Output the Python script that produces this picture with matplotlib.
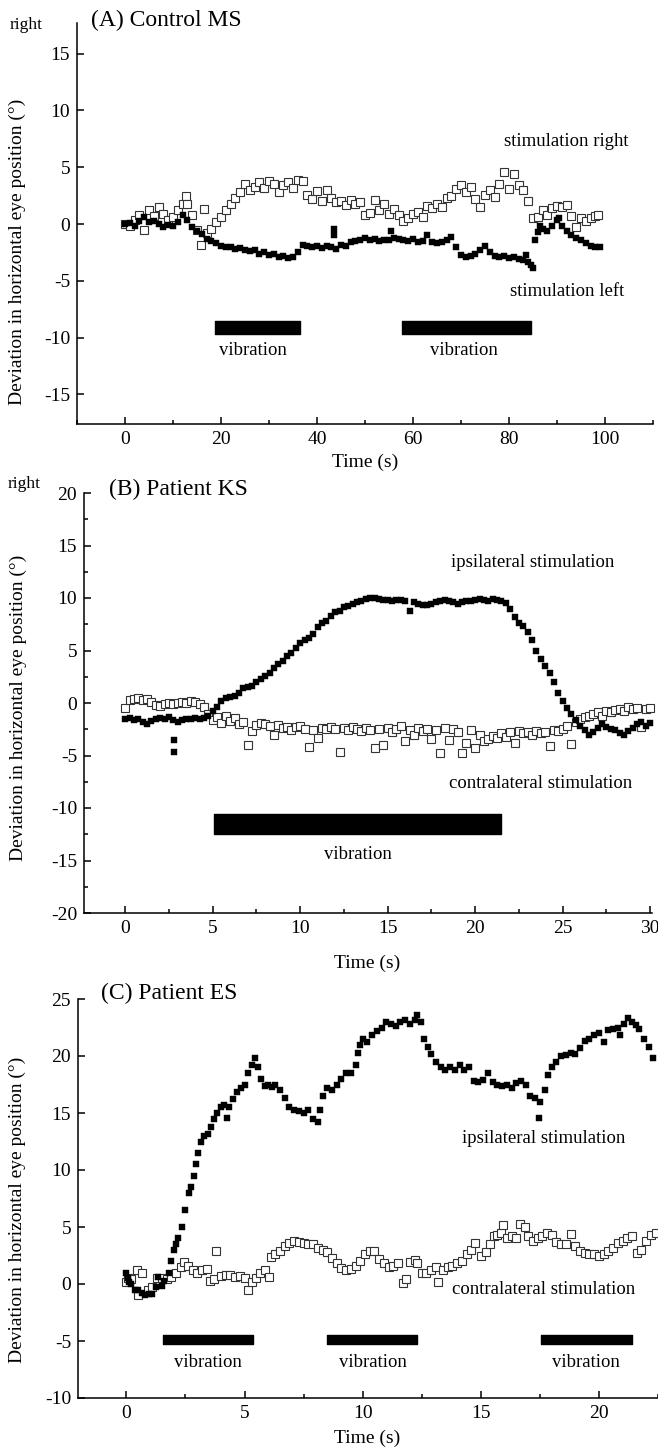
import numpy as np
import matplotlib
matplotlib.use("Agg")
import matplotlib.pyplot as plt
from matplotlib.ticker import MultipleLocator

plt.rcParams['font.family'] = ['Liberation Serif', 'DejaVu Serif']
plt.rcParams['axes.unicode_minus'] = False

# ---------- (A) Control MS : (time s, deviation deg) ----------
a_right = np.array([
    (0, 0.0), (1, -0.2), (2, 0.4), (3, 0.8), (4, -0.5), (5, 1.2), (6, 0.7), (7, 1.5), (8, 0.9), (9, 0.4),
    (10, 0.6), (11, 1.2), (12, 1.8), (12.7, 2.5), (13, 1.8), (14, 0.8), (15, -0.5), (15.8, -1.8), (16.5, 1.3), (17, -0.8),
    (18, -0.4), (19, 0.2), (20, 0.6), (21, 1.2), (22, 1.8), (23, 2.3), (24, 2.8), (25, 3.5), (26, 3.0), (27, 3.3),
    (28, 3.7), (29, 3.2), (30, 3.8), (31, 3.5), (32, 2.8), (33, 3.4), (34, 3.7), (35, 3.2), (36, 3.9), (37, 3.8),
    (38, 2.6), (39, 2.2), (40, 2.9), (41, 2.0), (42, 3.0), (43, 2.3), (44, 1.9), (45, 2.0), (46, 1.7), (47, 2.1),
    (48, 1.8), (49, 1.9), (50, 0.8), (51, 1.0), (52, 2.1), (53, 1.2), (54, 1.8), (55, 0.9), (56, 1.3), (57, 0.8),
    (58, 0.3), (59, 0.5), (60, 0.9), (61, 1.1), (62, 0.6), (63, 1.6), (64, 1.4), (65, 1.8), (66, 1.5), (67, 2.3),
    (68, 2.5), (69, 3.1), (70, 3.4), (71, 2.8), (72, 3.3), (73, 2.2), (74, 1.5), (75, 2.6), (76, 3.0), (77, 2.4),
    (78, 3.5), (79, 4.6), (80, 3.1), (81, 4.4), (82, 3.4), (83, 3.0), (84, 2.0), (85, 0.5), (86, 0.6), (87, 1.2),
    (88, 0.8), (89, 1.4), (90, 1.6), (91, 1.5), (92, 1.7), (93, 0.7), (94, -0.3), (95, 0.5), (96, 0.3), (97, 0.5),
    (98, 0.7), (98.5, 0.8),
])
a_left = np.array([
    (0, 0.0), (1, 0.1), (2, -0.2), (3, 0.3), (4, 0.6), (5, 0.2), (6, 0.3), (7, 0.0), (8, -0.3), (9, -0.1),
    (10, -0.2), (11, 0.2), (12, 0.8), (13, 0.4), (14, -0.3), (15, -0.6), (16, -0.9), (17, -1.3), (18, -1.5), (19, -1.7),
    (20, -1.9), (21, -2.0), (22, -2.0), (23, -2.2), (24, -2.1), (25, -2.3), (26, -2.4), (27, -2.3), (28, -2.6), (29, -2.5),
    (30, -2.7), (31, -2.6), (32, -2.9), (33, -2.8), (34, -3.0), (35, -2.9), (36, -2.5), (37, -1.8), (38, -1.9), (39, -2.0),
    (40, -1.9), (41, -2.1), (42, -1.9), (43, -2.0), (43.5, -0.4), (43.6, -1.0), (44, -2.2), (45, -1.8), (46, -1.9), (47, -1.6),
    (48, -1.5), (49, -1.4), (50, -1.2), (51, -1.4), (52, -1.3), (53, -1.5), (54, -1.4), (55, -1.4), (55.5, -0.6), (56, -1.2),
    (57, -1.3), (58, -1.4), (59, -1.5), (60, -1.3), (61, -1.6), (62, -1.5), (63, -1.0), (64, -1.6), (65, -1.7), (66, -1.6),
    (67, -1.4), (68, -1.1), (69, -2.0), (70, -2.7), (71, -2.9), (72, -2.8), (73, -2.6), (74, -2.3), (75, -1.9), (76, -2.5),
    (77, -2.8), (78, -2.9), (79, -2.8), (80, -3.0), (81, -2.9), (82, -3.1), (83, -3.2), (83.5, -2.7), (84, -3.3), (84.5, -3.6),
    (85, -3.9), (85.5, -1.4), (86, -0.7), (86.5, -0.2), (87, -0.4), (88, -0.6), (89, -0.2), (90, 0.4), (90.5, 0.5), (91, -0.2),
    (92, -0.6), (93, -1.0), (94, -1.2), (95, -1.4), (96, -1.7), (97, -1.9), (98, -2.0), (99, -2.0),
])
a_vib_start = [18.8, 57.8]
a_vib_end = [36.4, 84.5]

# ---------- (B) Patient KS ----------
b_ipsi = np.array([
    (0.00, -1.5), (0.25, -1.4), (0.50, -1.6), (0.75, -1.5), (1.00, -1.8), (1.25, -2.0), (1.50, -1.7), (1.75, -1.5),
    (2.00, -1.4), (2.25, -1.5), (2.50, -1.3), (2.75, -1.6), (2.80, -3.5), (2.82, -4.7), (3.00, -1.8), (3.25, -1.6),
    (3.50, -1.5), (3.75, -1.5), (4.00, -1.4), (4.25, -1.5), (4.50, -1.4), (4.75, -1.2), (5.00, -0.8), (5.25, -0.4),
    (5.50, 0.2), (5.75, 0.5), (6.00, 0.6), (6.25, 0.7), (6.50, 1.0), (6.75, 1.4), (7.00, 1.5), (7.25, 1.6),
    (7.50, 2.0), (7.75, 2.3), (8.00, 2.6), (8.25, 2.9), (8.50, 3.3), (8.75, 3.7), (9.00, 4.0), (9.25, 4.5),
    (9.50, 4.8), (9.75, 5.2), (10.00, 5.7), (10.25, 6.0), (10.50, 6.2), (10.75, 6.6), (11.00, 7.2), (11.25, 7.6),
    (11.50, 7.8), (11.75, 8.3), (12.00, 8.7), (12.25, 8.8), (12.50, 9.1), (12.75, 9.2), (13.00, 9.4), (13.25, 9.6),
    (13.50, 9.7), (13.75, 9.9), (14.00, 10.0), (14.25, 10.0), (14.50, 9.9), (14.75, 9.8), (15.00, 9.8), (15.25, 9.7),
    (15.50, 9.8), (15.75, 9.8), (16.00, 9.7), (16.25, 8.8), (16.50, 9.6), (16.75, 9.4), (17.00, 9.3), (17.25, 9.3),
    (17.50, 9.4), (17.75, 9.6), (18.00, 9.7), (18.25, 9.8), (18.50, 9.7), (18.75, 9.6), (19.00, 9.4), (19.25, 9.6),
    (19.50, 9.7), (19.75, 9.7), (20.00, 9.8), (20.25, 9.9), (20.50, 9.8), (20.75, 9.7), (21.00, 9.9), (21.25, 9.8),
    (21.50, 9.7), (21.75, 9.5), (22.00, 9.0), (22.25, 8.2), (22.50, 7.6), (22.75, 7.3), (23.00, 6.8), (23.25, 6.0),
    (23.50, 5.0), (23.75, 4.2), (24.00, 3.5), (24.25, 2.9), (24.50, 2.0), (24.75, 1.0), (25.00, 0.2), (25.25, -0.5),
    (25.50, -1.0), (25.75, -1.6), (26.00, -2.2), (26.25, -2.6), (26.50, -3.0), (26.75, -2.8), (27.00, -2.4), (27.25, -2.0),
    (27.50, -2.3), (27.75, -2.5), (28.00, -2.6), (28.25, -2.9), (28.50, -3.0), (28.75, -2.7), (29.00, -2.4), (29.25, -2.0),
    (29.50, -1.8), (29.75, -2.2), (30.00, -1.9),
])
b_contra = np.array([
    (0.00, -0.5), (0.25, 0.3), (0.50, 0.4), (0.75, 0.5), (1.00, 0.3), (1.25, 0.4), (1.50, 0.1), (1.75, -0.2),
    (2.00, -0.3), (2.25, -0.1), (2.50, 0.0), (2.75, -0.1), (3.00, 0.0), (3.25, 0.1), (3.50, 0.0), (3.75, 0.2),
    (4.00, 0.1), (4.25, -0.1), (4.50, -0.4), (4.75, -1.0), (5.00, -1.6), (5.25, -1.3), (5.50, -1.9), (5.75, -1.2),
    (6.00, -1.7), (6.25, -1.4), (6.50, -2.0), (6.75, -1.8), (7.00, -4.0), (7.25, -2.7), (7.50, -2.1), (7.75, -1.9),
    (8.00, -2.0), (8.25, -2.2), (8.50, -3.0), (8.75, -2.1), (9.00, -2.4), (9.25, -2.3), (9.50, -2.6), (9.75, -2.3),
    (10.00, -2.2), (10.25, -2.5), (10.50, -4.2), (10.75, -2.6), (11.00, -3.3), (11.25, -2.4), (11.50, -2.5), (11.75, -2.3),
    (12.00, -2.5), (12.25, -4.7), (12.50, -2.4), (12.75, -2.6), (13.00, -2.3), (13.25, -2.5), (13.50, -2.7), (13.75, -2.4),
    (14.00, -2.6), (14.25, -4.3), (14.50, -2.5), (14.75, -4.0), (15.00, -2.4), (15.25, -2.8), (15.50, -2.5), (15.75, -2.2),
    (16.00, -3.6), (16.25, -2.6), (16.50, -3.0), (16.75, -2.4), (17.00, -2.7), (17.25, -2.5), (17.50, -3.4), (17.75, -2.6),
    (18.00, -4.8), (18.25, -2.4), (18.50, -3.5), (18.75, -2.5), (19.00, -2.8), (19.25, -4.8), (19.50, -3.8), (19.75, -2.6),
    (20.00, -4.3), (20.25, -3.0), (20.50, -3.6), (20.75, -3.4), (21.00, -3.1), (21.25, -3.3), (21.50, -2.9), (21.75, -3.2),
    (22.00, -2.8), (22.25, -3.8), (22.50, -2.7), (22.75, -2.9), (23.00, -2.8), (23.25, -3.0), (23.50, -2.7), (23.75, -2.9),
    (24.00, -2.8), (24.25, -4.1), (24.50, -2.6), (24.75, -2.7), (25.00, -2.5), (25.25, -2.2), (25.50, -3.9), (25.75, -1.8),
    (26.00, -1.5), (26.25, -1.3), (26.50, -1.2), (26.75, -1.0), (27.00, -0.9), (27.25, -1.2), (27.50, -0.8), (27.75, -0.9),
    (28.00, -0.7), (28.25, -0.6), (28.50, -0.8), (28.75, -0.4), (29.00, -0.6), (29.25, -0.5), (29.50, -2.3), (29.75, -0.6),
    (30.00, -0.5),
])
b_vib_start = [5.07]
b_vib_end = [21.5]

# ---------- (C) Patient ES ----------
c_ipsi = np.array([
    (0.0, 1.0), (0.05, 0.5), (0.1, 0.2), (0.2, 0.0), (0.35, -0.5), (0.5, -0.5), (0.65, -0.8), (0.8, -1.0), (0.95, -0.9), (1.1, -0.9),
    (1.25, -0.3), (1.35, 0.6), (1.5, -0.2), (1.6, 0.3), (1.8, 1.0), (1.9, 2.0), (2.0, 3.0), (2.1, 3.5), (2.2, 4.0), (2.35, 5.0),
    (2.5, 6.5), (2.65, 8.0), (2.75, 8.5), (2.85, 9.5), (2.95, 10.5), (3.05, 11.5), (3.15, 12.5), (3.3, 13.0), (3.45, 13.2), (3.6, 13.8),
    (3.7, 14.5), (3.85, 15.0), (4.0, 15.5), (4.15, 15.7), (4.25, 14.6), (4.35, 15.5), (4.5, 16.2), (4.7, 16.8), (4.85, 17.2), (5.0, 17.5),
    (5.15, 18.5), (5.3, 19.2), (5.45, 19.8), (5.55, 19.0), (5.7, 18.0), (5.85, 17.4), (6.0, 17.5), (6.15, 17.3), (6.3, 17.5), (6.5, 17.0),
    (6.7, 16.3), (6.9, 15.5), (7.1, 15.3), (7.3, 15.2), (7.5, 15.0), (7.7, 15.3), (7.9, 14.5), (8.1, 14.2), (8.2, 15.3), (8.3, 16.5),
    (8.5, 17.2), (8.7, 17.0), (8.9, 17.5), (9.1, 18.0), (9.3, 18.5), (9.5, 18.5), (9.7, 19.2), (9.8, 20.3), (9.9, 21.0), (10.0, 21.5),
    (10.2, 21.2), (10.4, 21.8), (10.6, 22.2), (10.8, 22.5), (11.0, 23.0), (11.2, 22.8), (11.4, 22.6), (11.6, 23.0), (11.8, 23.2), (12.0, 22.8),
    (12.2, 23.2), (12.3, 23.6), (12.45, 23.0), (12.6, 21.5), (12.75, 20.8), (12.9, 20.2), (13.1, 19.5), (13.3, 19.0), (13.5, 18.8), (13.7, 19.0),
    (13.9, 18.8), (14.1, 19.2), (14.3, 18.8), (14.5, 19.0), (14.7, 17.8), (14.9, 17.7), (15.1, 17.9), (15.3, 18.5), (15.5, 17.7), (15.7, 17.5),
    (15.9, 17.4), (16.1, 17.5), (16.3, 17.2), (16.5, 17.6), (16.7, 17.8), (16.9, 17.5), (17.1, 16.5), (17.3, 16.3), (17.45, 14.6), (17.5, 16.0),
    (17.7, 17.0), (17.85, 18.3), (18.0, 19.0), (18.2, 19.5), (18.4, 20.0), (18.6, 20.1), (18.8, 20.3), (19.0, 20.2), (19.2, 20.7), (19.4, 21.3),
    (19.6, 21.5), (19.8, 21.8), (20.0, 22.0), (20.2, 21.2), (20.4, 22.3), (20.6, 22.4), (20.8, 22.5), (20.9, 21.8), (21.05, 22.8), (21.25, 23.3),
    (21.4, 23.0), (21.55, 22.7), (21.7, 22.4), (21.9, 21.5), (22.1, 20.8), (22.3, 19.8),
])
c_contra = np.array([
    (0.0, 0.2), (0.05, 0.5), (0.2, 0.4), (0.45, 1.2), (0.5, -1.0), (0.65, 1.0), (0.9, -0.5), (1.1, -0.3), (1.3, 0.5), (1.5, 0.5),
    (1.7, 0.4), (1.9, 0.6), (2.1, 1.0), (2.3, 1.5), (2.45, 1.9), (2.6, 1.6), (2.8, 1.2), (3.0, 1.0), (3.2, 1.2), (3.4, 1.3),
    (3.55, 0.3), (3.7, 0.4), (3.8, 2.9), (4.0, 0.7), (4.2, 0.8), (4.4, 0.8), (4.6, 0.6), (4.8, 0.7), (5.0, 0.5), (5.15, -0.5),
    (5.3, 0.2), (5.5, 0.5), (5.65, 1.0), (5.85, 1.2), (6.05, 0.6), (6.1, 2.4), (6.3, 2.6), (6.5, 2.9), (6.7, 3.3), (6.9, 3.6),
    (7.1, 3.8), (7.3, 3.7), (7.5, 3.6), (7.7, 3.5), (7.9, 3.5), (8.1, 3.2), (8.3, 3.0), (8.5, 2.8), (8.7, 2.3), (8.9, 1.8),
    (9.1, 1.4), (9.3, 1.2), (9.5, 1.3), (9.7, 1.6), (9.9, 2.0), (10.1, 2.6), (10.3, 2.9), (10.5, 2.9), (10.7, 2.2), (10.9, 1.8),
    (11.1, 1.5), (11.3, 1.6), (11.5, 1.8), (11.7, 0.1), (11.85, 0.4), (12.0, 1.9), (12.2, 2.1), (12.3, 1.8), (12.5, 1.0), (12.7, 1.0),
    (12.9, 1.2), (13.1, 1.5), (13.2, 0.2), (13.4, 1.2), (13.6, 1.5), (13.8, 1.6), (14.0, 1.8), (14.2, 2.0), (14.4, 2.6), (14.6, 3.0),
    (14.75, 3.6), (15.0, 2.5), (15.2, 2.8), (15.4, 3.5), (15.55, 4.2), (15.7, 4.3), (15.85, 4.5), (15.95, 5.2), (16.1, 4.0), (16.3, 4.2),
    (16.5, 4.0), (16.65, 5.3), (16.85, 5.0), (17.0, 4.2), (17.2, 3.8), (17.4, 4.0), (17.6, 4.2), (17.8, 4.5), (18.0, 4.3), (18.2, 3.7),
    (18.4, 3.5), (18.6, 3.5), (18.8, 4.4), (19.0, 3.3), (19.2, 2.9), (19.4, 2.7), (19.6, 2.6), (19.8, 2.6), (20.0, 2.5), (20.2, 2.6),
    (20.4, 2.9), (20.6, 3.2), (20.8, 3.6), (21.0, 3.8), (21.2, 4.0), (21.4, 4.2), (21.6, 2.7), (21.8, 3.0), (22.0, 3.8), (22.2, 4.3),
    (22.4, 4.5),
])
c_vib_start = [1.55, 8.5, 17.56]
c_vib_end = [5.37, 12.3, 21.4]

W, H = 658, 1454
fig = plt.figure(figsize=(W / 100, H / 100), dpi=100)


def px(x, y):
    return x / W, 1 - y / H


def style_axes(ax, xmaj, xmin, ymaj, ymin):
    for s in ['top', 'right']:
        ax.spines[s].set_visible(False)
    for s in ['left', 'bottom']:
        ax.spines[s].set_linewidth(1.1)
    ax.xaxis.set_major_locator(MultipleLocator(xmaj))
    ax.xaxis.set_minor_locator(MultipleLocator(xmin))
    ax.yaxis.set_major_locator(MultipleLocator(ymaj))
    if ymin:
        ax.yaxis.set_minor_locator(MultipleLocator(ymin))
    ax.tick_params(which='major', direction='in', length=5, width=1.1, labelsize=14, pad=5)
    ax.tick_params(which='minor', direction='in', length=3, width=1.1)


def scatter(ax, data, filled):
    if filled:
        ax.plot(data[:, 0], data[:, 1], 's', ms=5.0, color='black', mec='black', mew=0.3, clip_on=False)
    else:
        ax.plot(data[:, 0], data[:, 1], 's', ms=5.3, mfc='white', mec='0.2', mew=0.8, clip_on=False)


def vib(ax, starts, ends, yc, h):
    ax.broken_barh([(s, e - s) for s, e in zip(starts, ends)], (yc - h / 2, h), color='black')


ylab = 'Deviation in horizontal eye position (°)'

# ---- A ----
axA = fig.add_axes([77 / W, 1 - 424 / H, 576 / W, 401 / H])
scatter(axA, a_right, False)
scatter(axA, a_left, True)
vib(axA, a_vib_start, a_vib_end, -9.1, 1.2)
axA.set_xlim(-10, 110)
axA.set_ylim(-17.6, 17.7)
style_axes(axA, 20, 10, 5, None)
axA.text(26.6, -11.1, 'vibration', ha='center', va='center', fontsize=13.5)
axA.text(70.7, -11.1, 'vibration', ha='center', va='center', fontsize=13.5)
axA.text(79, 7.3, 'stimulation right', ha='left', va='center', fontsize=13.5)
axA.text(80.3, -5.9, 'stimulation left', ha='left', va='center', fontsize=13.5)
fig.text(*px(91, 20), '(A) Control MS', ha='left', va='center', fontsize=17)
fig.text(*px(10, 25), 'right', ha='left', va='center', fontsize=12.5)
fig.text(*px(17, 252), ylab, rotation=90, ha='center', va='center', fontsize=14)
fig.text(*px(365, 462), 'Time (s)', ha='center', va='center', fontsize=14)

# ---- B ----
axB = fig.add_axes([84 / W, 1 - 913 / H, 568 / W, 420 / H])
scatter(axB, b_contra, False)
scatter(axB, b_ipsi, True)
vib(axB, b_vib_start, b_vib_end, -11.55, 1.9)
axB.set_xlim(-2.35, 30.1)
axB.set_ylim(-20, 20)
style_axes(axB, 5, 2.5, 5, 2.5)
axB.text(13.3, -14.4, 'vibration', ha='center', va='center', fontsize=13.5)
axB.text(18.6, 13.4, 'ipsilateral stimulation', ha='left', va='center', fontsize=13.5)
axB.text(18.5, -7.7, 'contralateral stimulation', ha='left', va='center', fontsize=13.5)
fig.text(*px(109, 489), '(B) Patient KS', ha='left', va='center', fontsize=17)
fig.text(*px(8, 484), 'right', ha='left', va='center', fontsize=12.5)
fig.text(*px(18, 708), ylab, rotation=90, ha='center', va='center', fontsize=14)
fig.text(*px(367, 963), 'Time (s)', ha='center', va='center', fontsize=14)

# ---- C ----
axC = fig.add_axes([78 / W, 1 - 1398 / H, 580 / W, 399 / H])
scatter(axC, c_contra, False)
scatter(axC, c_ipsi, True)
vib(axC, c_vib_start, c_vib_end, -4.87, 0.75)
axC.set_xlim(-2.05, 22.5)
axC.set_ylim(-10, 25)
style_axes(axC, 5, 2.5, 5, None)
for xc in [3.45, 10.45, 19.47]:
    axC.text(xc, -6.85, 'vibration', ha='center', va='center', fontsize=13.5)
axC.text(14.2, 12.8, 'ipsilateral stimulation', ha='left', va='center', fontsize=13.5)
axC.text(13.8, -0.45, 'contralateral stimulation', ha='left', va='center', fontsize=13.5)
fig.text(*px(101, 993), '(C) Patient ES', ha='left', va='center', fontsize=17)
fig.text(*px(17, 1210), ylab, rotation=90, ha='center', va='center', fontsize=14)
fig.text(*px(367, 1438), 'Time (s)', ha='center', va='center', fontsize=14)

fig.savefig('out.png', dpi=100)
